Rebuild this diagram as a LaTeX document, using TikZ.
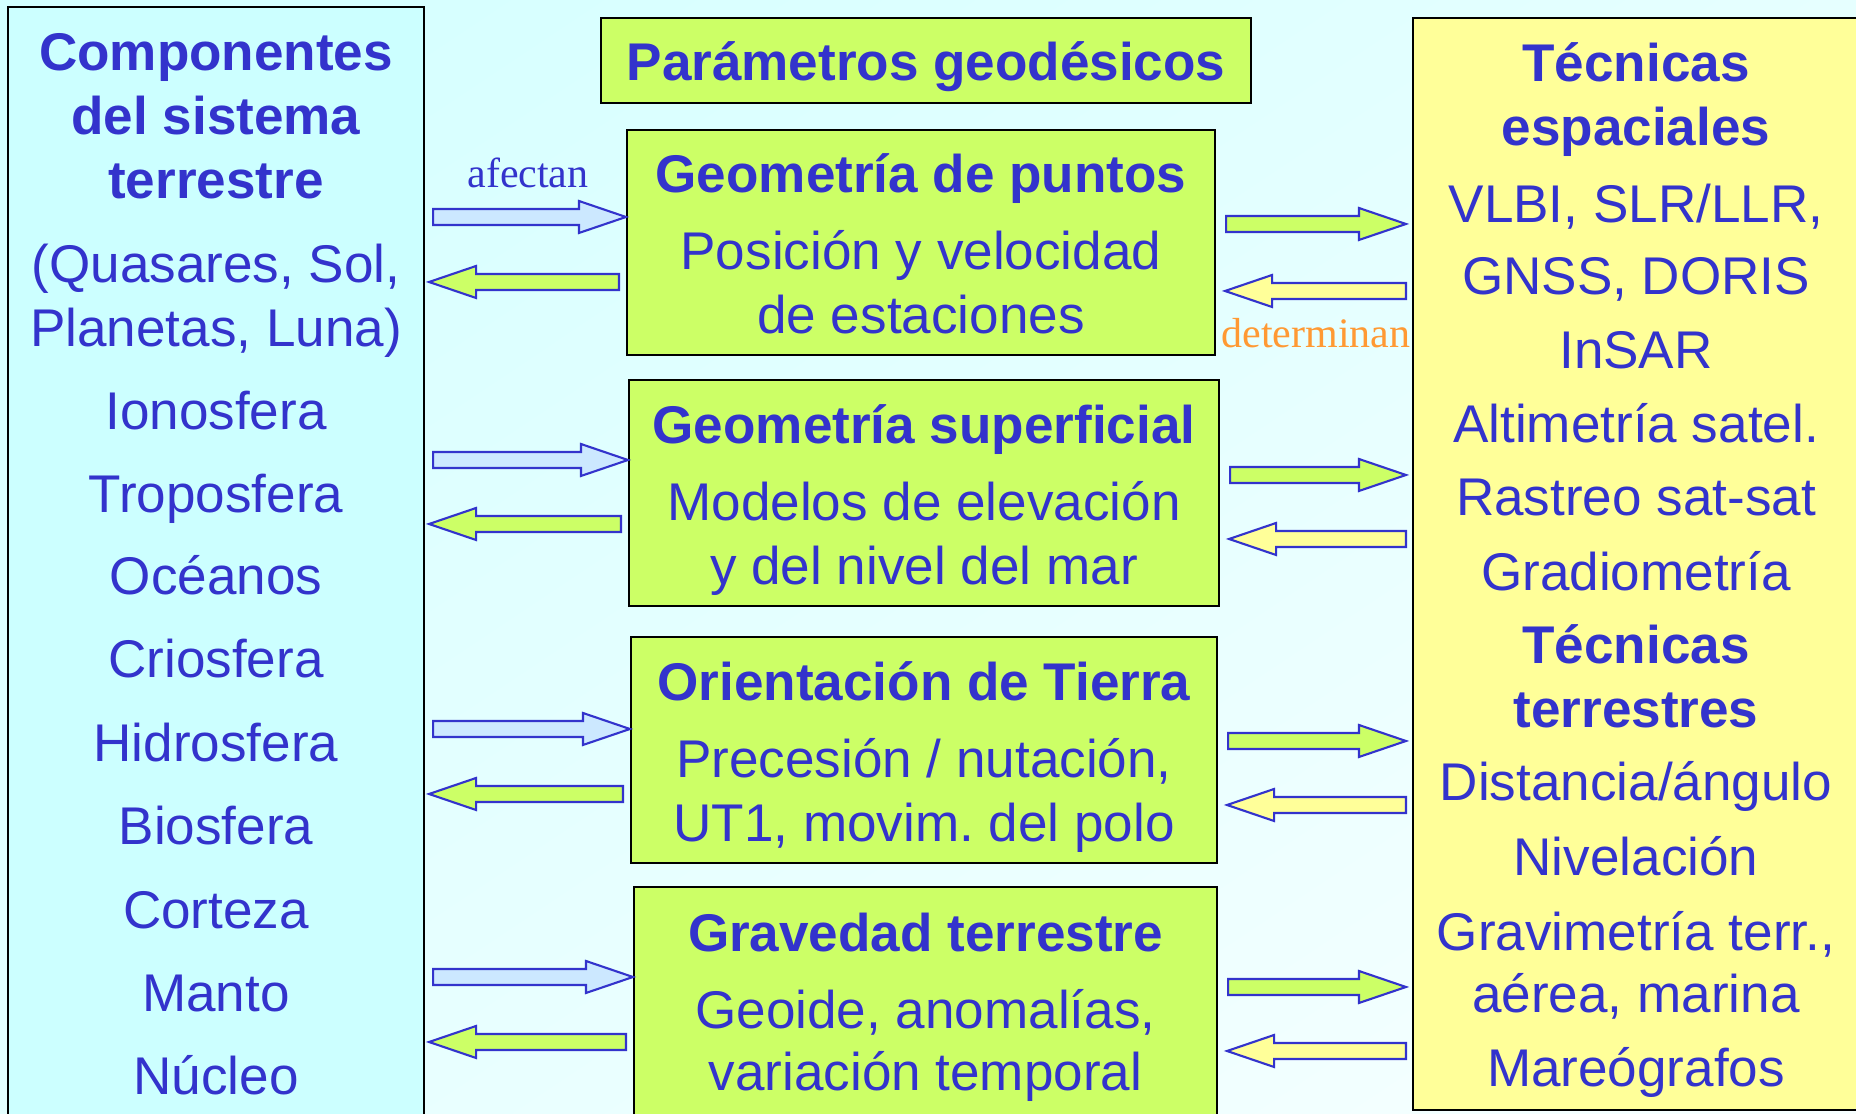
\documentclass[tikz,border=0pt]{standalone}
\usepackage{fontspec}
\setmainfont{Liberation Sans}
\newfontfamily\timesfont{Liberation Serif}
\usetikzlibrary{calc,fit,positioning,shadings}
\frenchspacing

\definecolor{ink}{HTML}{3333CC}
\definecolor{cyanbox}{HTML}{CCFFFF}
\definecolor{limebox}{HTML}{CCFF66}
\definecolor{yellowbox}{HTML}{FFFF99}
\definecolor{paleblue}{HTML}{CCE8FF}
\definecolor{orangetxt}{HTML}{FF9933}
\definecolor{bgUL}{HTML}{D2FFFF}
\definecolor{bgUR}{HTML}{E6FFFF}
\definecolor{bgLL}{HTML}{E4FFFF}
\definecolor{bgLR}{HTML}{F8FFFF}

\tikzset{
	box/.style={draw=black, line width=0.6pt, inner sep=0pt},
	txt/.style={text=ink, anchor=base, inner sep=0pt, font=\fontsize{15.1}{18}\selectfont},
	lbl/.style={anchor=base, inner sep=0pt, font=\timesfont\fontsize{11.95}{14}\selectfont},
	fat/.style={draw=ink, line width=0.6pt, line join=miter}
}

% block arrow: style, start, tip
\newcommand{\headlen}{4.7mm}
\newcommand{\fatarrow}[3]{%
	\coordinate (fas) at (#2);
	\coordinate (fat) at (#3);
	\coordinate (fah) at ($(fat)!\headlen!(fas)$);
	\draw[fat,#1] ($(fas)+(0,8)$) -- ($(fah)+(0,8)$) -- ($(fah)+(0,16)$) -- (fat)
		-- ($(fah)+(0,-16)$) -- ($(fah)+(0,-8)$) -- ($(fas)+(0,-8)$) -- cycle;}

\begin{document}
\begin{tikzpicture}[x=0.1mm, y=-0.1mm]
	\useasboundingbox (0,0) rectangle (1856,1114);
	\clip (0,0) rectangle (1856,1114);
	\shade[upper left=bgUL, upper right=bgUR, lower left=bgLL, lower right=bgLR]
		(0,0) rectangle (1856,1114);

	% boxes
	\node[box, fill=cyanbox, fit={(8,7) (424,1140)}] (comp) {};
	\node[box, fill=yellowbox, fit={(1413,18) (1862,1110)}] (tec) {};
	\node[box, fill=limebox, fit={(601,18) (1251,103)}] (param) {};
	\node[box, fill=limebox, fit={(627,130) (1215,355)}] (pts) {};
	\node[box, fill=limebox, fit={(629,380) (1219,606)}] (sup) {};
	\node[box, fill=limebox, fit={(631,637) (1217,863)}] (ori) {};
	\node[box, fill=limebox, fit={(634,887) (1217,1140)}] (grav) {};

	% left column
	\foreach \t/\y [count=\i] in {{\bfseries Componentes}/71, {\bfseries del sistema}/135,
		{\bfseries terrestre}/199, {(Quasares, Sol,}/283, {Planetas, Luna)}/347,
		Ionosfera/430, Troposfera/513, Océanos/595, Criosfera/678, Hidrosfera/762,
		Biosfera/845, Corteza/929, Manto/1012, Núcleo/1095}
		\node[txt, name=comp\i] at (comp.center |- 0,\y) {\t};

	% right column
	\foreach \t/\y [count=\i] in {{\bfseries Técnicas}/82, {\bfseries espaciales}/146,
		{VLBI, SLR/LLR,}/223, {GNSS, DORIS}/295, InSAR/369, {Altimetría satel.}/443,
		{Rastreo sat-sat}/516, Gradiometría/591, {\bfseries Técnicas}/664,
		{\bfseries terrestres}/728, {Distancia/ángulo}/801, Nivelación/876,
		{Gravimetría terr.,}/951, {aérea, marina}/1013, Mareógrafos/1087}
		\node[txt, name=tec\i] at (1636,\y) {\t};

	% middle
	\node[txt] (param1) at (param.center |- 0,81) {\bfseries Parámetros geodésicos};
	\foreach \b/\ta/\tb/\tc/\ya/\yb/\yc in {
		pts/Geometría de puntos/Posición y velocidad/de estaciones/193/270/334,
		sup/Geometría superficial/Modelos de elevación/y del nivel del mar/444/521/585,
		ori/Orientación de Tierra/{Precesión / nutación,}/{UT1, movim. del polo}/701/778/842,
		grav/Gravedad terrestre/{Geoide, anomalías,}/variación temporal/952/1029/1091}
	{
		\node[txt] (\b1) at (\b.center |- 0,\ya) {\bfseries \ta};
		\node[txt] (\b2) at (\b.center |- 0,\yb) {\tb};
		\node[txt] (\b3) at (\b.center |- 0,\yc) {\tc};
	}

	% arrows
	\foreach \b/\ya/\yb/\yc/\yd in {pts/217/282/224/291, sup/460/524/475/539,
		ori/729/794/741/805, grav/977/1042/987/1051}
	{
		\fatarrow{fill=paleblue}{$(comp.east|-0,\ya)+(8,0)$}{\b.west|-0,\ya}
		\fatarrow{fill=limebox}{$(\b.west|-0,\yb)+(-7,0)$}{$(comp.east|-0,\yb)+(4,0)$}
		\fatarrow{fill=limebox}{$(\b.east|-0,\yc)+(10,0)$}{$(tec.west|-0,\yc)+(-6,0)$}
		\fatarrow{fill=yellowbox}{$(tec.west|-0,\yd)+(-6,0)$}{$(\b.east|-0,\yd)+(9,0)$}
	}

	\node[lbl, text=ink] (afectan) at (528,188) {afectan};
	\node[lbl, text=orangetxt] (determinan) at (1316,348) {determinan};
\end{tikzpicture}
\end{document}
